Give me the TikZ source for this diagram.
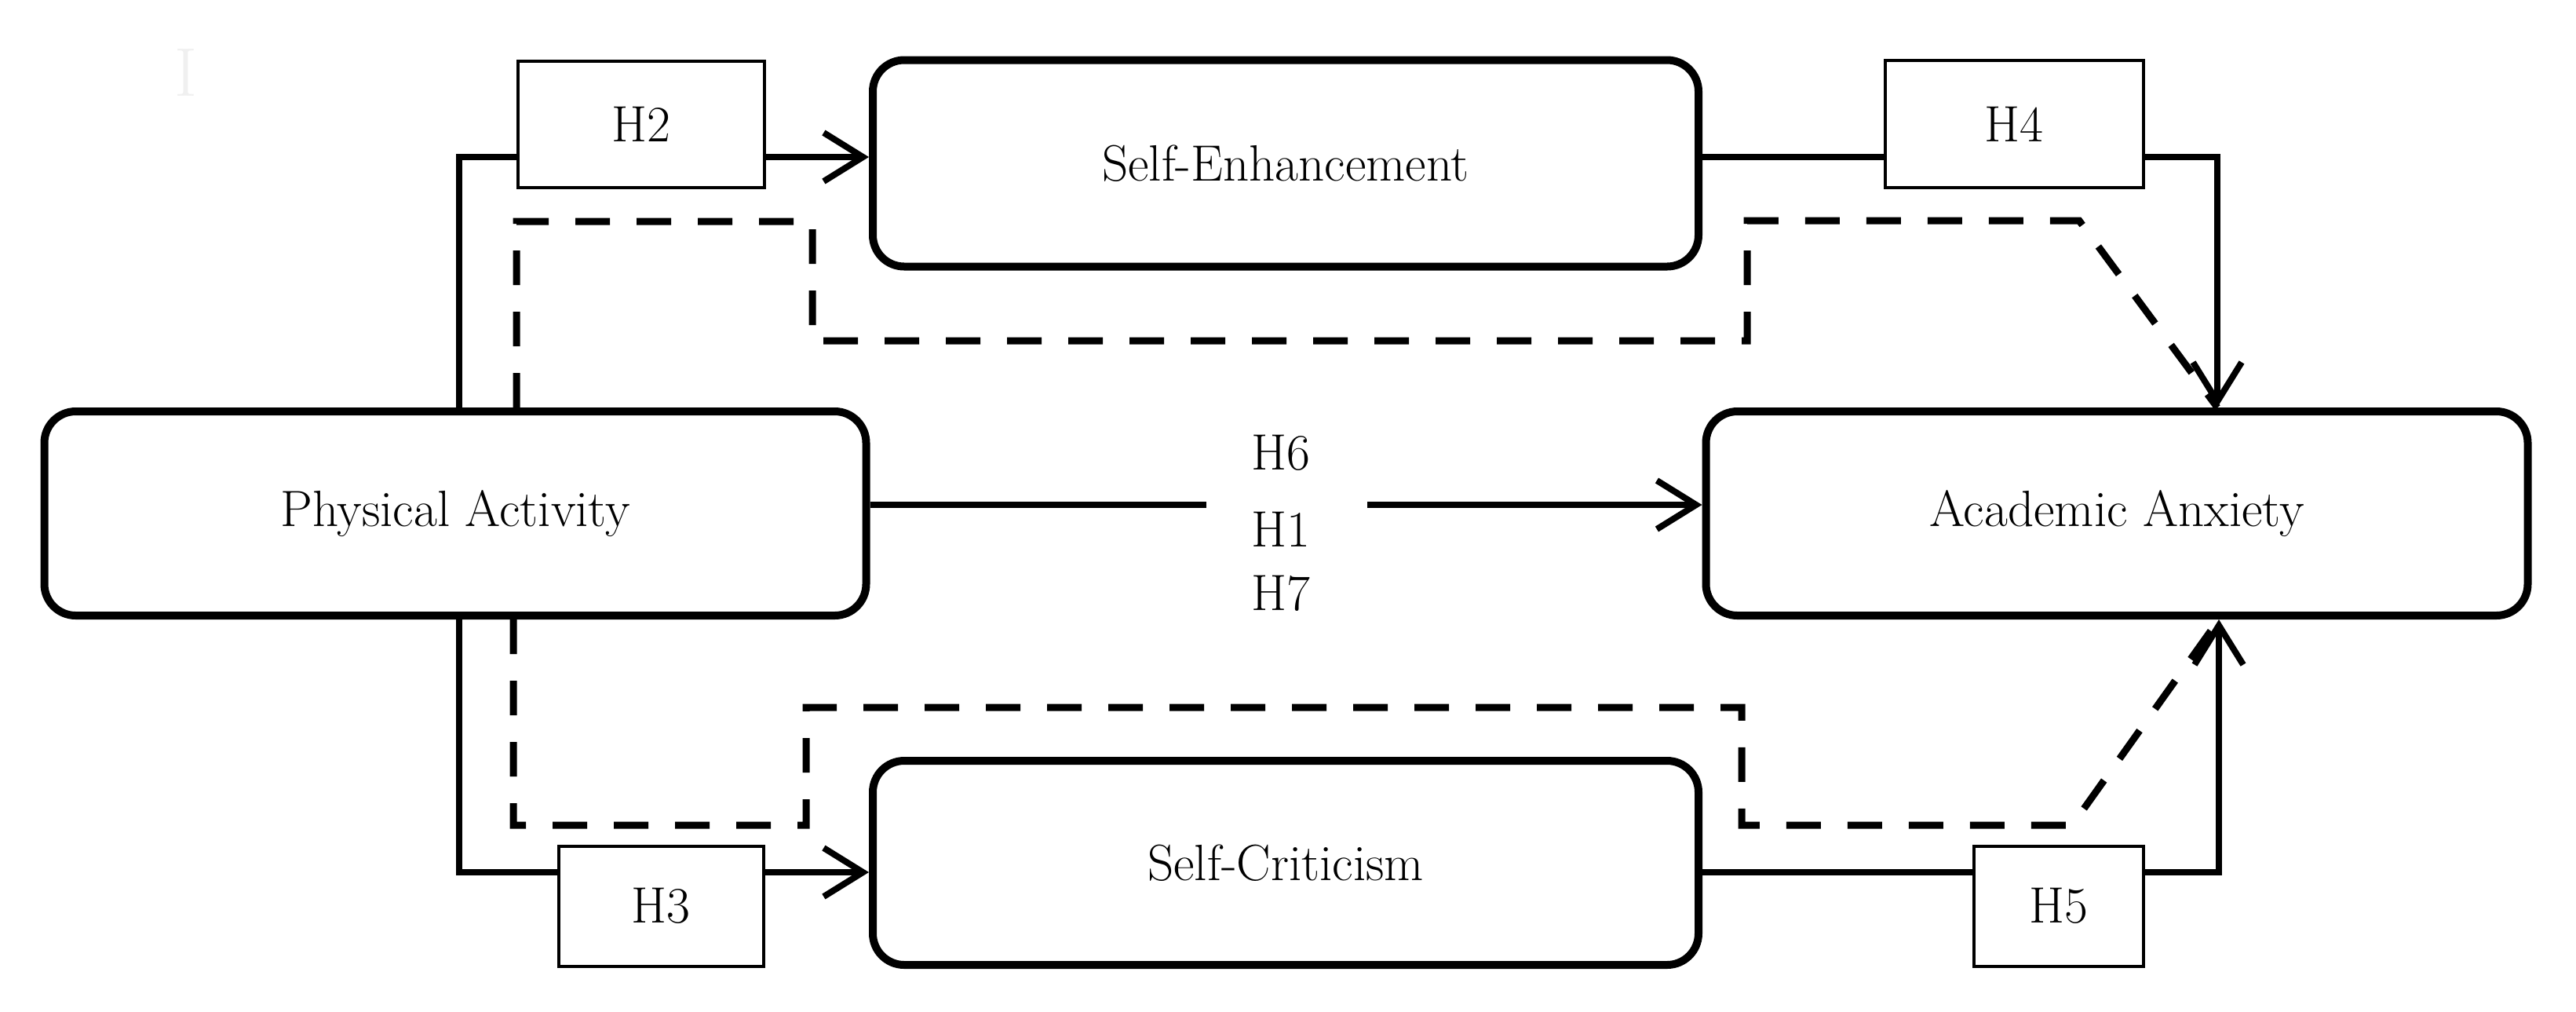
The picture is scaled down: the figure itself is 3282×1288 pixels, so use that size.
\documentclass[tikz,border=0pt]{standalone}
\usetikzlibrary{arrows.meta}
\begin{document}
\begin{tikzpicture}[x=0.1mm, y=-0.1mm, font=\fontsize{18.5}{22}\selectfont,
            >={Straight Barb[length=5mm,width=6.2mm]},
            box/.style={draw, line width=1mm, rounded corners=4mm, minimum width=104.7mm, minimum height=26mm, inner sep=0pt},
            hbox/.style={draw, fill=white, line width=0.4mm, inner sep=0pt, minimum height=15.3mm},
            link/.style={line width=0.8mm},
            indirect/.style={line width=0.9mm, dash pattern=on 4.4mm off 3.4mm}]
            \useasboundingbox (0,0) rectangle (3282,1288);
            \node[text=black!6, font=\fontsize{25}{30}\selectfont](I) at (237,92) {I};
            \node[box](PA) at (580,654) {Physical Activity};
            \node[box](AA) at (2697,654) {Academic Anxiety};
            \node[box, minimum width=105.2mm, minimum height=26.3mm](SE) at (1638,208) {Self-Enhancement};
            \node[box, minimum width=105.2mm](SC) at (1638,1099) {Self-Criticism};
            \coordinate(topL) at (585,200);
            \coordinate(topR) at (2825,200);
            \coordinate(botL) at (585,1111);
            \coordinate(botR) at (2827,1111);
            \coordinate(gapL) at (1537,643);
            \coordinate(gapR) at (1742,643);
            \coordinate(dA) at (658,282);
            \coordinate(dB) at (654,1051);
            \draw[link,->](PA.north -| topL) |- (SE.west |- topL);
            \draw[link,->](SE.east |- topR) -| (AA.north -| topR);
            \draw[link,->](PA.south -| botL) |- (SC.west |- botL);
            \draw[link,->](SC.east |- botR) -| (AA.south -| botR);
            \draw[link](PA.east |- gapL) -- (gapL);
            \draw[link,->](gapR) -- (AA.west |- gapR);
            \draw[indirect](PA.north -| dA) |- (1035,282) |- (2226,434) |- (2649,281) -- (AA.north -| topR);
            \draw[indirect](PA.south -| dB) |- (1027,1051) |- (2219,901) |- (2640,1051) -- (AA.south -| botR);
            \node[hbox, minimum width=31.4mm, minimum height=16.1mm](H2) at (817,158) {H2};
            \node[hbox, minimum width=32.9mm, minimum height=16.2mm](H4) at (2566,158) {H4};
            \node[hbox, minimum width=26.1mm](H3) at (842,1154) {H3};
            \node[hbox, minimum width=21.6mm](H5) at (2623,1154) {H5};
            \node(H6) at (1632,577) {H6};
            \node(H1) at (1632,674) {H1};
            \node(H7) at (1632,756) {H7};
            \end{tikzpicture}
\end{document}
